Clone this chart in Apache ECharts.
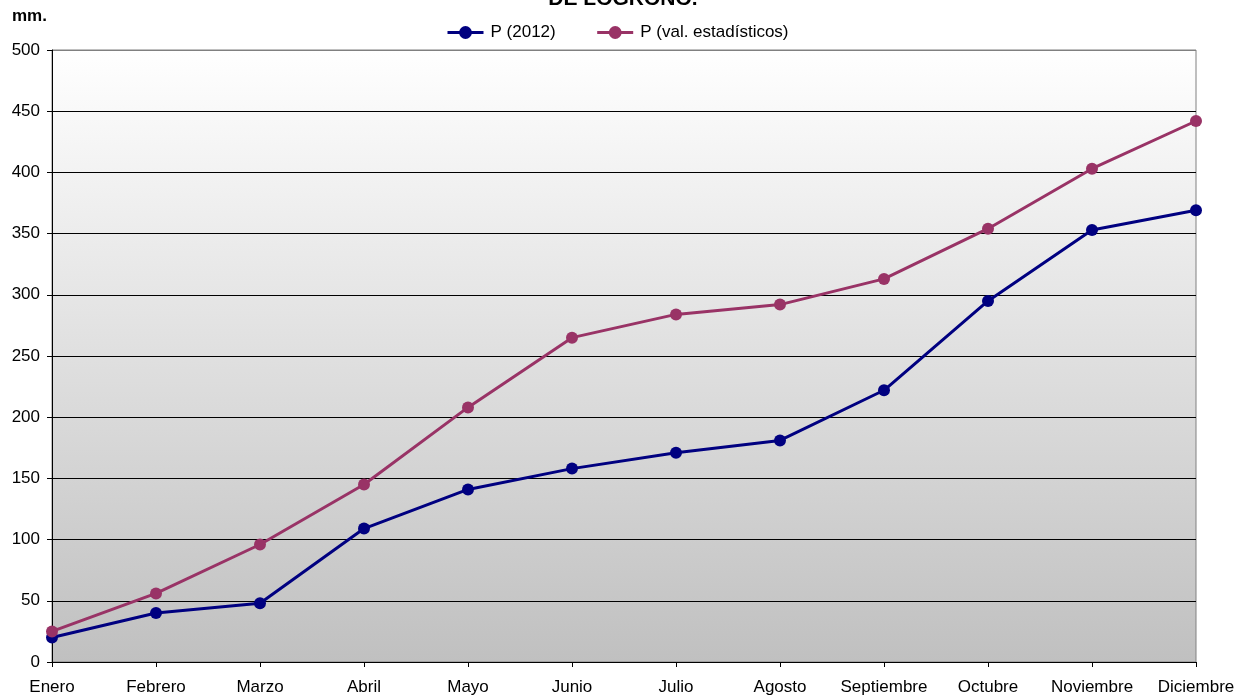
<!DOCTYPE html>
<html>
<head>
<meta charset="utf-8">
<script src="https://cdn.jsdelivr.net/npm/echarts@6/dist/echarts.min.js"></script>
<style>
  html, body { margin: 0; padding: 0; background: #fff; }
  #chart { width: 1247px; height: 699px; }
</style>
</head>
<body>
<div id="chart"></div>
<script>
// Precipitación acumulada mensual (mm)
const months = ['Enero', 'Febrero', 'Marzo', 'Abril', 'Mayo', 'Junio', 'Julio',
  'Agosto', 'Septiembre', 'Octubre', 'Noviembre', 'Diciembre'];
const p2012 = [20, 40, 48, 109, 141, 158, 171, 181, 222, 295, 353, 369];
const pEstadisticos = [25, 56, 96, 145, 208, 265, 284, 292, 313, 354, 403, 442];
const yTicks = [0, 50, 100, 150, 200, 250, 300, 350, 400, 450, 500];

const FONT = 'Liberation Sans, Arial, sans-serif';
const chart = echarts.init(document.getElementById('chart'), null, { renderer: 'canvas' });

// one colour per horizontal gridline; the top one matches the plot border
const splitColors = yTicks.map((v, i) => (i === yTicks.length - 1 ? '#808080' : '#000000'));

chart.setOption({
  animation: false,
  backgroundColor: '#ffffff',
  textStyle: { fontFamily: FONT },
  graphic: [
    {
      type: 'text', x: 623, y: -1,
      style: {
        text: 'DE LOGROÑO.', font: 'bold 21px ' + FONT, fill: '#000',
        align: 'center', verticalAlign: 'middle'
      }
    },
    {
      type: 'text', x: 12, y: 16,
      style: {
        text: 'mm.', font: 'bold 17px ' + FONT, fill: '#000',
        align: 'left', verticalAlign: 'middle'
      }
    }
  ],
  legend: {
    left: 441, top: 19,
    itemWidth: 36, itemHeight: 16, itemGap: 40,
    lineStyle: { width: 3 },
    textStyle: { fontSize: 17, color: '#000', fontFamily: FONT, padding: [0, 0, 0, 2] },
    data: ['P (2012)', 'P (val. estadísticos)']
  },
  grid: {
    left: 52, right: 51, top: 50, bottom: 37,
    show: true,
    borderColor: '#808080', borderWidth: 1,
    backgroundColor: {
      type: 'linear', x: 0, y: 0, x2: 0, y2: 1,
      colorStops: [
        { offset: 0, color: '#ffffff' },
        { offset: 1, color: '#c0c0c0' }
      ]
    }
  },
  xAxis: {
    type: 'category',
    data: months,
    boundaryGap: false,
    axisLine: { lineStyle: { color: '#000', width: 1 } },
    axisTick: { show: true, length: 5, inside: false, lineStyle: { color: '#000' } },
    axisLabel: { fontSize: 17, color: '#000', margin: 17, interval: 0, fontFamily: FONT },
    splitLine: { show: false }
  },
  yAxis: {
    type: 'value',
    min: 0, max: 500, interval: 50,
    axisLine: { show: true, lineStyle: { color: '#000', width: 1 } },
    axisTick: { show: true, length: 5, lineStyle: { color: '#000' } },
    axisLabel: { fontSize: 17, color: '#000', margin: 12, fontFamily: FONT },
    splitLine: { show: true, lineStyle: { color: splitColors, width: 1 } }
  },
  series: [
    {
      name: 'P (2012)', type: 'line', data: p2012,
      color: '#000080',
      symbol: 'circle', symbolSize: 12,
      lineStyle: { width: 3, color: '#000080' },
      itemStyle: { color: '#000080' }
    },
    {
      name: 'P (val. estadísticos)', type: 'line', data: pEstadisticos,
      color: '#993366',
      symbol: 'circle', symbolSize: 12,
      lineStyle: { width: 3, color: '#993366' },
      itemStyle: { color: '#993366' }
    }
  ]
});
</script>
</body>
</html>
